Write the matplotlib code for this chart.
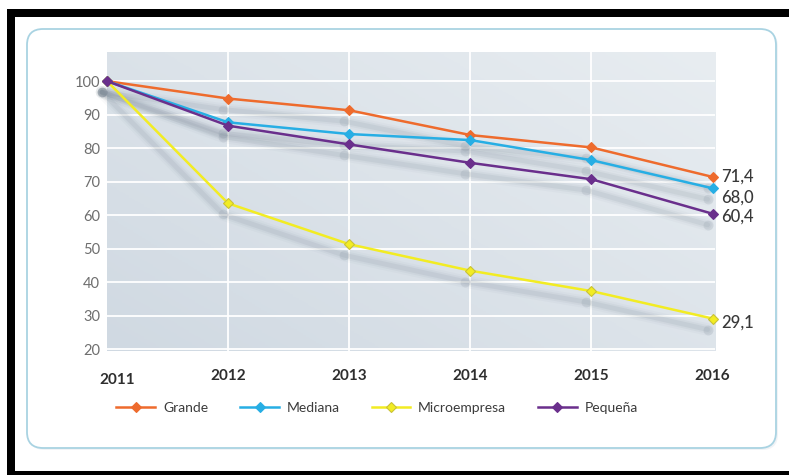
import numpy as np
import matplotlib
matplotlib.use("Agg")
import matplotlib.pyplot as plt
from matplotlib.patches import FancyBboxPatch, Rectangle
from matplotlib.transforms import IdentityTransform, ScaledTranslation, offset_copy
from matplotlib.colors import LinearSegmentedColormap

# data (index, 2011 = 100)
years = [2011, 2012, 2013, 2014, 2015, 2016]
grande = [100, 94.8, 91.3, 83.9, 80.2, 71.4]
mediana = [100, 87.7, 84.2, 82.4, 76.4, 68.0]
microempresa = [100, 63.5, 51.3, 43.4, 37.3, 29.1]
pequena = [100, 86.7, 81.1, 75.6, 70.7, 60.4]
series_names = ["Grande", "Mediana", "Microempresa", "Pequeña"]
y_ticks = [20, 30, 40, 50, 60, 70, 80, 90, 100]


def main():
    plt.rcParams["font.family"] = ["Lato", "DejaVu Sans"]
    fig = plt.figure(figsize=(7.89, 4.75), dpi=100)
    fig.patch.set_facecolor("white")

    # rounded frame with a soft shadow (pixel coords)
    ident = IdentityTransform()
    fig.patches.append(FancyBboxPatch((29, 25), 749, 419,
                                      boxstyle="round,pad=0,rounding_size=16",
                                      transform=ident, fc="#eef1f4", ec="none",
                                      alpha=0.8, zorder=0))
    fig.patches.append(FancyBboxPatch((27, 27), 749, 419,
                                      boxstyle="round,pad=0,rounding_size=16",
                                      transform=ident, fc="white", ec="#a9d3e2",
                                      lw=1.3, zorder=1))
    # black border of the screenshot
    for x, y, w, h in [(7, 458, 782, 8), (7, 0, 8, 466), (7, 0, 782, 4)]:
        fig.patches.append(Rectangle((x, y), w, h, transform=ident,
                                     fc="black", ec="none", zorder=5))

    ax = fig.add_axes([0.1356, 0.261, 0.7706, 0.6295])
    ax.set_zorder(2)
    ax.patch.set_alpha(0)

    # background gradient of the plot area
    gx, gy = np.meshgrid(np.linspace(0, 1, 200), np.linspace(0, 1, 200))
    grad = 0.55 * gx + 0.45 * gy
    cmap = LinearSegmentedColormap.from_list("bg", ["#d0d9e2", "#e8edf1"])
    ax.imshow(grad, extent=(0, 1, 0, 1), transform=ax.transAxes, origin="lower",
              cmap=cmap, aspect="auto", zorder=0)

    for v in y_ticks:
        ax.axhline(v, color="white", lw=1.3, zorder=1)
    for yr in years[1:-1]:
        ax.axvline(yr, color="white", lw=1.3, zorder=1)

    data = [grande, mediana, microempresa, pequena]
    colors = ["#ee6b2d", "#27aee4", "#f2ec23", "#6a2f8c"]
    edges = ["#ee6b2d", "#27aee4", "#c9c237", "#6a2f8c"]

    # blurred drop shadows
    shadow_tr = offset_copy(ax.transData, fig=fig, x=-5, y=-11, units="dots")
    for vals in data:
        for lw, a in [(9, 0.035), (6, 0.06), (3.5, 0.09)]:
            ax.plot(years, vals, color="#5f6f7e", lw=lw, alpha=a,
                    transform=shadow_tr, solid_capstyle="round", zorder=2,
                    clip_on=False)
        ax.scatter(years, vals, s=50, color="#5f6f7e", alpha=0.12,
                   transform=shadow_tr, lw=0, zorder=2, clip_on=False)

    for vals, name, c, ec in zip(data, series_names, colors, edges):
        ax.plot(years, vals, color=c, lw=1.8, marker="D", ms=5, mfc=c,
                mec=ec, mew=0.8, label=name, zorder=3, clip_on=False)

    # end labels
    offsets = [0, -9, -4, -3]
    for vals, dy in zip(data, offsets):
        ax.annotate(f"{vals[-1]:.1f}".replace(".", ","), xy=(years[-1], vals[-1]),
                    xytext=(9, dy), textcoords="offset pixels", va="center",
                    ha="left", fontsize=12, color="#383838",
                    fontweight="medium", annotation_clip=False)

    ax.set_xlim(2011, 2016.02)
    ax.set_ylim(19.4, 108.7)
    ax.set_yticks(y_ticks)
    ax.set_xticks(years)
    ax.set_xticklabels([str(y) for y in years])
    ax.tick_params(axis="y", length=0, pad=5, labelsize=10.5, labelcolor="#6e6e6e")
    ax.tick_params(axis="x", length=0, pad=13, labelsize=11, labelcolor="#2e2e2e")
    for lab in ax.get_xticklabels():
        lab.set_fontweight("bold")
    first = ax.get_xticklabels()[0]
    first.set_transform(first.get_transform()
                        + ScaledTranslation(0.10, -0.04, fig.dpi_scale_trans))
    for s in ax.spines.values():
        s.set_visible(False)

    fig.legend(loc="center", bbox_to_anchor=(0.478, 0.141), ncol=4,
               frameon=False, fontsize=10, labelcolor="#3c3c3c",
               handlelength=2.8, handletextpad=0.55, columnspacing=2.3)

    fig.savefig("out.png", dpi=100)


if __name__ == "__main__":
    main()
